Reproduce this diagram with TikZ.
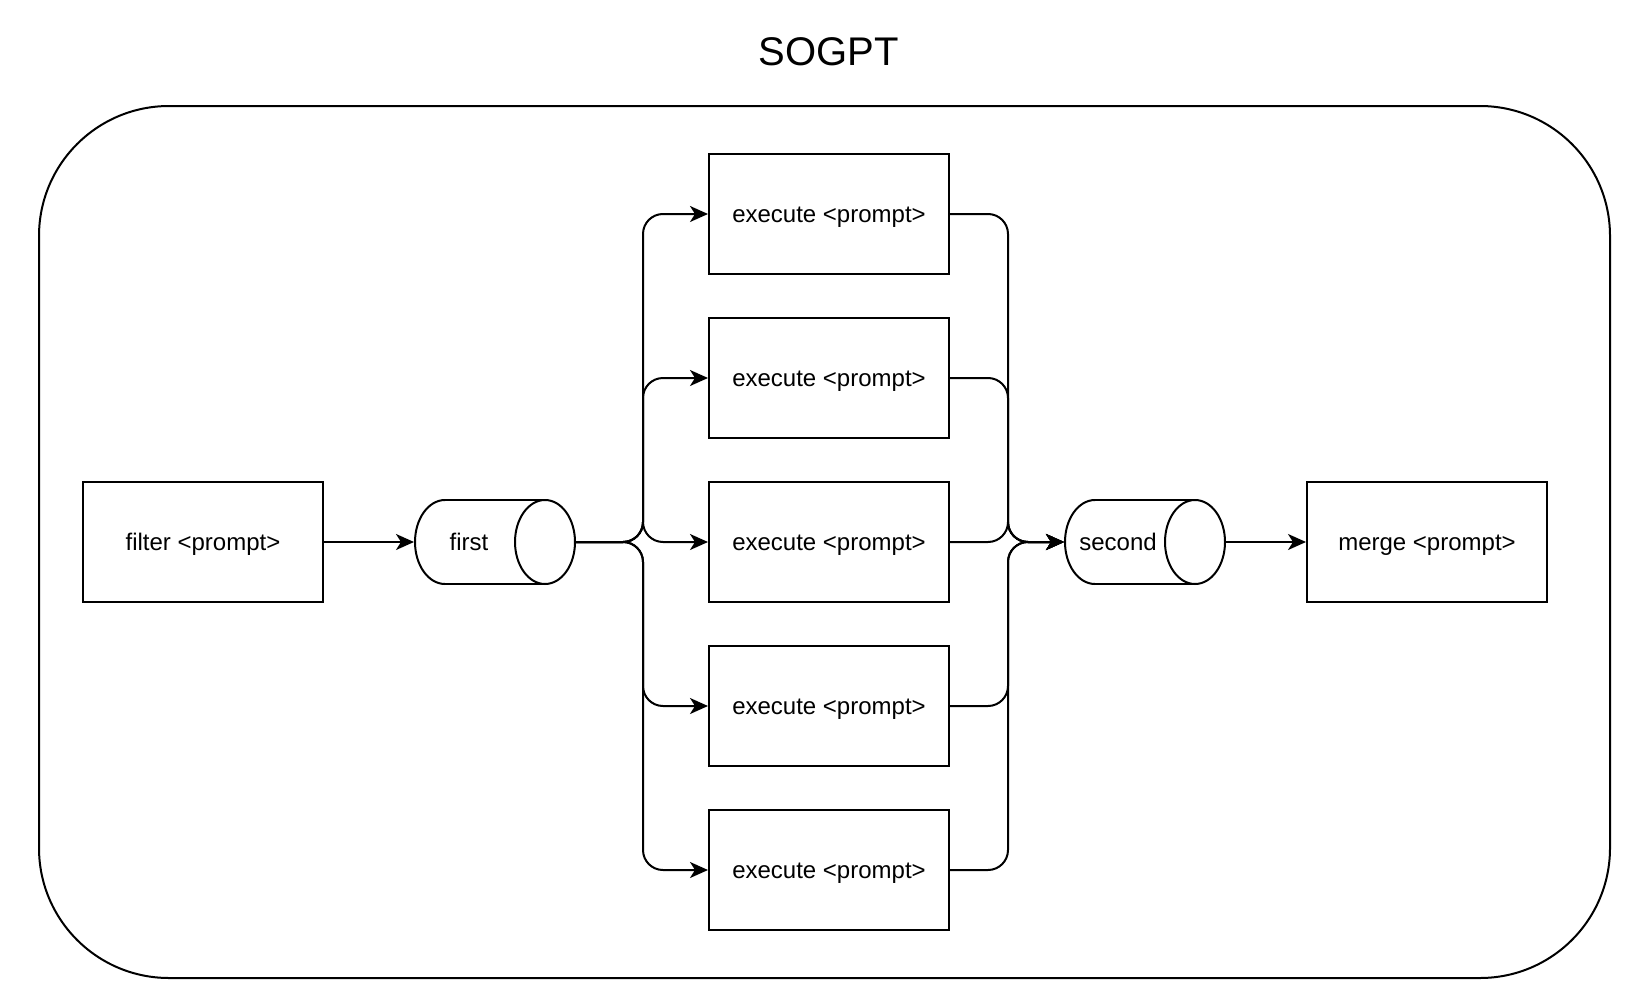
\documentclass[tikz,border=0pt]{standalone}
\usepackage{fontspec}
\setmainfont{Liberation Sans}
\usetikzlibrary{arrows.meta,calc}
\begin{document}
\begin{tikzpicture}[x=1pt,y=1pt,
  line width=2pt,
  box/.style={draw,minimum width=240pt,minimum height=120pt,inner sep=0pt,
    text height=19pt,text depth=1.6pt,font=\fontsize{24pt}{28pt}\selectfont},
  cylspace/.style={minimum width=160pt,minimum height=84pt,inner sep=0pt},
  lbl/.style={font=\fontsize{24pt}{28pt}\selectfont,inner sep=0pt,text height=19pt,text depth=3pt},
  conn/.style={-{Stealth[length=18pt,width=16pt,inset=5pt]},rounded corners=20pt}]
\useasboundingbox (0,0) rectangle (1649,-998);
\node[font=\fontsize{40pt}{46pt}\selectfont] (title) at (829,-52) {SOGPT};
\draw[rounded corners=130pt] (39,-106) rectangle (1610,-978);

\node[box] (filter) at (203,-542) {filter <prompt>};
\node[box] (e1) at (829,-214) {execute <prompt>};
\node[box] (e2) at (829,-378) {execute <prompt>};
\node[box] (e3) at (829,-542) {execute <prompt>};
\node[box] (e4) at (829,-706) {execute <prompt>};
\node[box] (e5) at (829,-870) {execute <prompt>};
\node[box] (merge) at (1427,-542) {merge <prompt>};

% cylinders
\node[cylspace] (first) at (495,-542) {};
\draw (445,-500) -- (545,-500) (445,-584) -- (545,-584);
\draw (545,-542) ellipse [x radius=30pt, y radius=42pt];
\draw (445,-542) ++(90:30pt and 42pt) arc[start angle=90, end angle=270, x radius=30pt, y radius=42pt];
\node[lbl] (firstlbl) at (469,-542) {first};

\node[cylspace] (second) at (1145,-542) {};
\draw (1095,-500) -- (1195,-500) (1095,-584) -- (1195,-584);
\draw (1195,-542) ellipse [x radius=30pt, y radius=42pt];
\draw (1095,-542) ++(90:30pt and 42pt) arc[start angle=90, end angle=270, x radius=30pt, y radius=42pt];
\node[lbl] (secondlbl) at (1118,-542) {second};

% connectors
\draw[conn] (filter.east) -- (first.west);
\foreach \e in {e1,e2,e3,e4,e5}{
  \draw[conn] (first.east) -- ++(67pt,0) |- (\e.west);
  \draw[conn] (\e.east) -- ++(58pt,0) |- (second.west);
}
\draw[conn] (second.east) -- (merge.west);
\end{tikzpicture}
\end{document}
